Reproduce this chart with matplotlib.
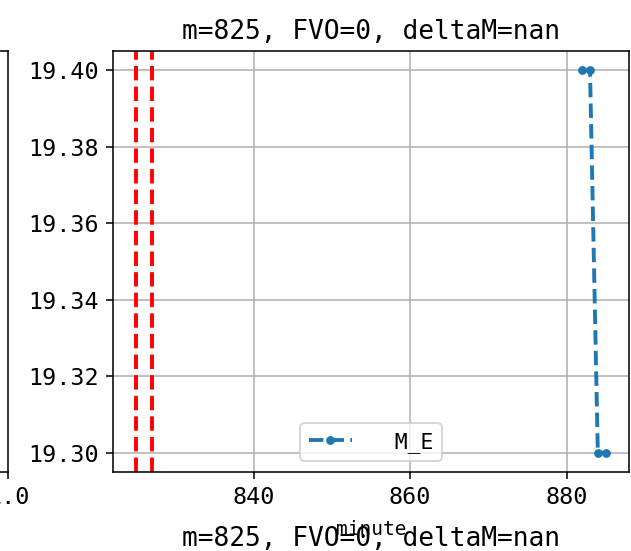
import matplotlib
matplotlib.use("Agg")
import matplotlib.pyplot as plt

plt.rcParams['font.family'] = ['DejaVu Sans Mono']

minute = [882, 883, 884, 885]
m_e = [19.40, 19.40, 19.30, 19.30]
marks = [825, 827]
x_ticks = [840, 860, 880]
y_ticks = [19.30, 19.32, 19.34, 19.36, 19.38, 19.40]
title = "m=825, FVO=0, deltaM=nan"

fig = plt.figure(figsize=(631 / 140, 551 / 140), dpi=140)

# neighbour panel on the left, mostly outside the crop
ax0 = fig.add_axes([0.0127 - 0.818, 0.1434, 0.818, 0.764])
ax0.tick_params(labelsize=12)

ax = fig.add_axes([0.179, 0.1434, 0.818, 0.764])
for x in marks:
    ax.axvline(x, color='r', linestyle='--', linewidth=2)
ax.plot(minute, m_e, '.--', color='C0', linewidth=2, markersize=7, label='  M_E')
ax.grid(True)
ax.set_title(title, fontsize=13.5)
ax.set_xlabel('minute', fontsize=10, labelpad=6)
ax.tick_params(labelsize=12)
ax.set_xticks(x_ticks)
ax.set_yticks(y_ticks)
ax.legend(loc='lower center', fontsize=11)

# panel below, only its title shows
ax2 = fig.add_axes([0.179, -0.012 - 0.764, 0.818, 0.764])
ax2.set_title(title, fontsize=13.5)

fig.savefig("out.png", dpi=140)
